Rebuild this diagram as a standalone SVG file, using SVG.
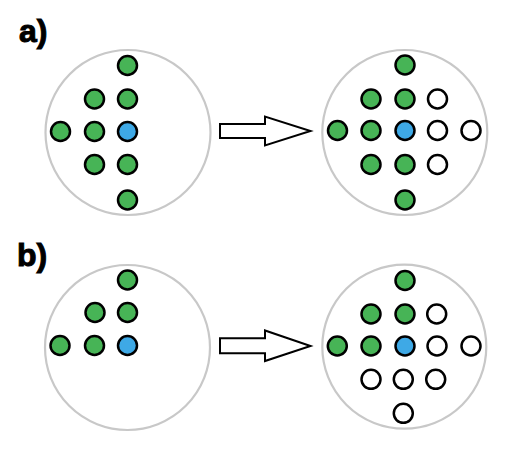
<svg xmlns="http://www.w3.org/2000/svg" width="509" height="454" viewBox="0 0 509 454">
<style>
.lbl{font-family:"Liberation Sans",Arial,sans-serif;font-weight:bold;font-size:32px;fill:#000;stroke:#000;stroke-width:1}
.big{fill:#fff;stroke:#c8c8c8;stroke-width:2.2}
.g{fill:#47b456;stroke:#000;stroke-width:2.5}
.b{fill:#3ea9e6;stroke:#000;stroke-width:2.5}
.w{fill:#fff;stroke:#000;stroke-width:2.5}
.arr{fill:#fff;stroke:#000;stroke-width:2;stroke-linejoin:miter}
</style>
<rect width="509" height="454" fill="#fff"/>
<text class="lbl" x="19" y="42">a)</text>
<text class="lbl" x="17" y="266">b)</text>
<g id="a-before">
<circle class="big" cx="128" cy="132.5" r="82.5"/>
<circle class="g" cx="127.5" cy="65.5" r="9.5"/>
<circle class="g" cx="94.5" cy="99" r="9.5"/>
<circle class="g" cx="127.5" cy="99" r="9.5"/>
<circle class="g" cx="60.5" cy="131.5" r="9.5"/>
<circle class="g" cx="94.5" cy="131.5" r="9.5"/>
<circle class="b" cx="127.5" cy="131.5" r="9.5"/>
<circle class="g" cx="94.5" cy="164.5" r="9.5"/>
<circle class="g" cx="127.5" cy="164.5" r="9.5"/>
<circle class="g" cx="127.5" cy="200" r="9.5"/>
</g>
<g id="a-after">
<circle class="big" cx="404.8" cy="132.5" r="82.5"/>
<circle class="g" cx="405" cy="65" r="9.5"/>
<circle class="g" cx="371" cy="99" r="9.5"/>
<circle class="g" cx="405" cy="99" r="9.5"/>
<circle class="w" cx="437.5" cy="99" r="9.5"/>
<circle class="g" cx="337.5" cy="130.5" r="9.5"/>
<circle class="g" cx="371" cy="130.5" r="9.5"/>
<circle class="b" cx="405" cy="130.5" r="9.5"/>
<circle class="w" cx="437.5" cy="130.5" r="9.5"/>
<circle class="w" cx="471" cy="130.5" r="9.5"/>
<circle class="g" cx="371" cy="164.5" r="9.5"/>
<circle class="g" cx="405" cy="164.5" r="9.5"/>
<circle class="w" cx="437.5" cy="164.5" r="9.5"/>
<circle class="g" cx="405" cy="200" r="9.5"/>
</g>
<g id="b-before">
<circle class="big" cx="127.5" cy="347.5" r="82.5"/>
<circle class="g" cx="127.5" cy="280" r="9.5"/>
<circle class="g" cx="95" cy="312.5" r="9.5"/>
<circle class="g" cx="127.5" cy="312.5" r="9.5"/>
<circle class="g" cx="60" cy="345.5" r="9.5"/>
<circle class="g" cx="94.5" cy="345.5" r="9.5"/>
<circle class="b" cx="127.5" cy="345.5" r="9.5"/>
</g>
<g id="b-after">
<circle class="big" cx="404.3" cy="346.7" r="82"/>
<circle class="g" cx="405" cy="280.5" r="9.5"/>
<circle class="g" cx="371" cy="314" r="9.5"/>
<circle class="g" cx="405" cy="314" r="9.5"/>
<circle class="w" cx="436.7" cy="314" r="9.5"/>
<circle class="g" cx="337.3" cy="346" r="9.5"/>
<circle class="g" cx="371" cy="346" r="9.5"/>
<circle class="b" cx="405" cy="346" r="9.5"/>
<circle class="w" cx="437" cy="346" r="9.5"/>
<circle class="w" cx="471" cy="346" r="9.5"/>
<circle class="w" cx="371" cy="379.3" r="9.5"/>
<circle class="w" cx="403.3" cy="379.3" r="9.5"/>
<circle class="w" cx="435.7" cy="379.3" r="9.5"/>
<circle class="w" cx="403.3" cy="413.3" r="9.5"/>
</g>
<g id="connectors">
<polygon class="arr" points="220,124 265,124 265,116.5 310.5,131 265,145.5 265,138 220,138"/>
<polygon class="arr" points="220,338.3 265,338.3 265,330.5 310.5,346 265,361 265,353.3 220,353.3"/>
</g>
</svg>
